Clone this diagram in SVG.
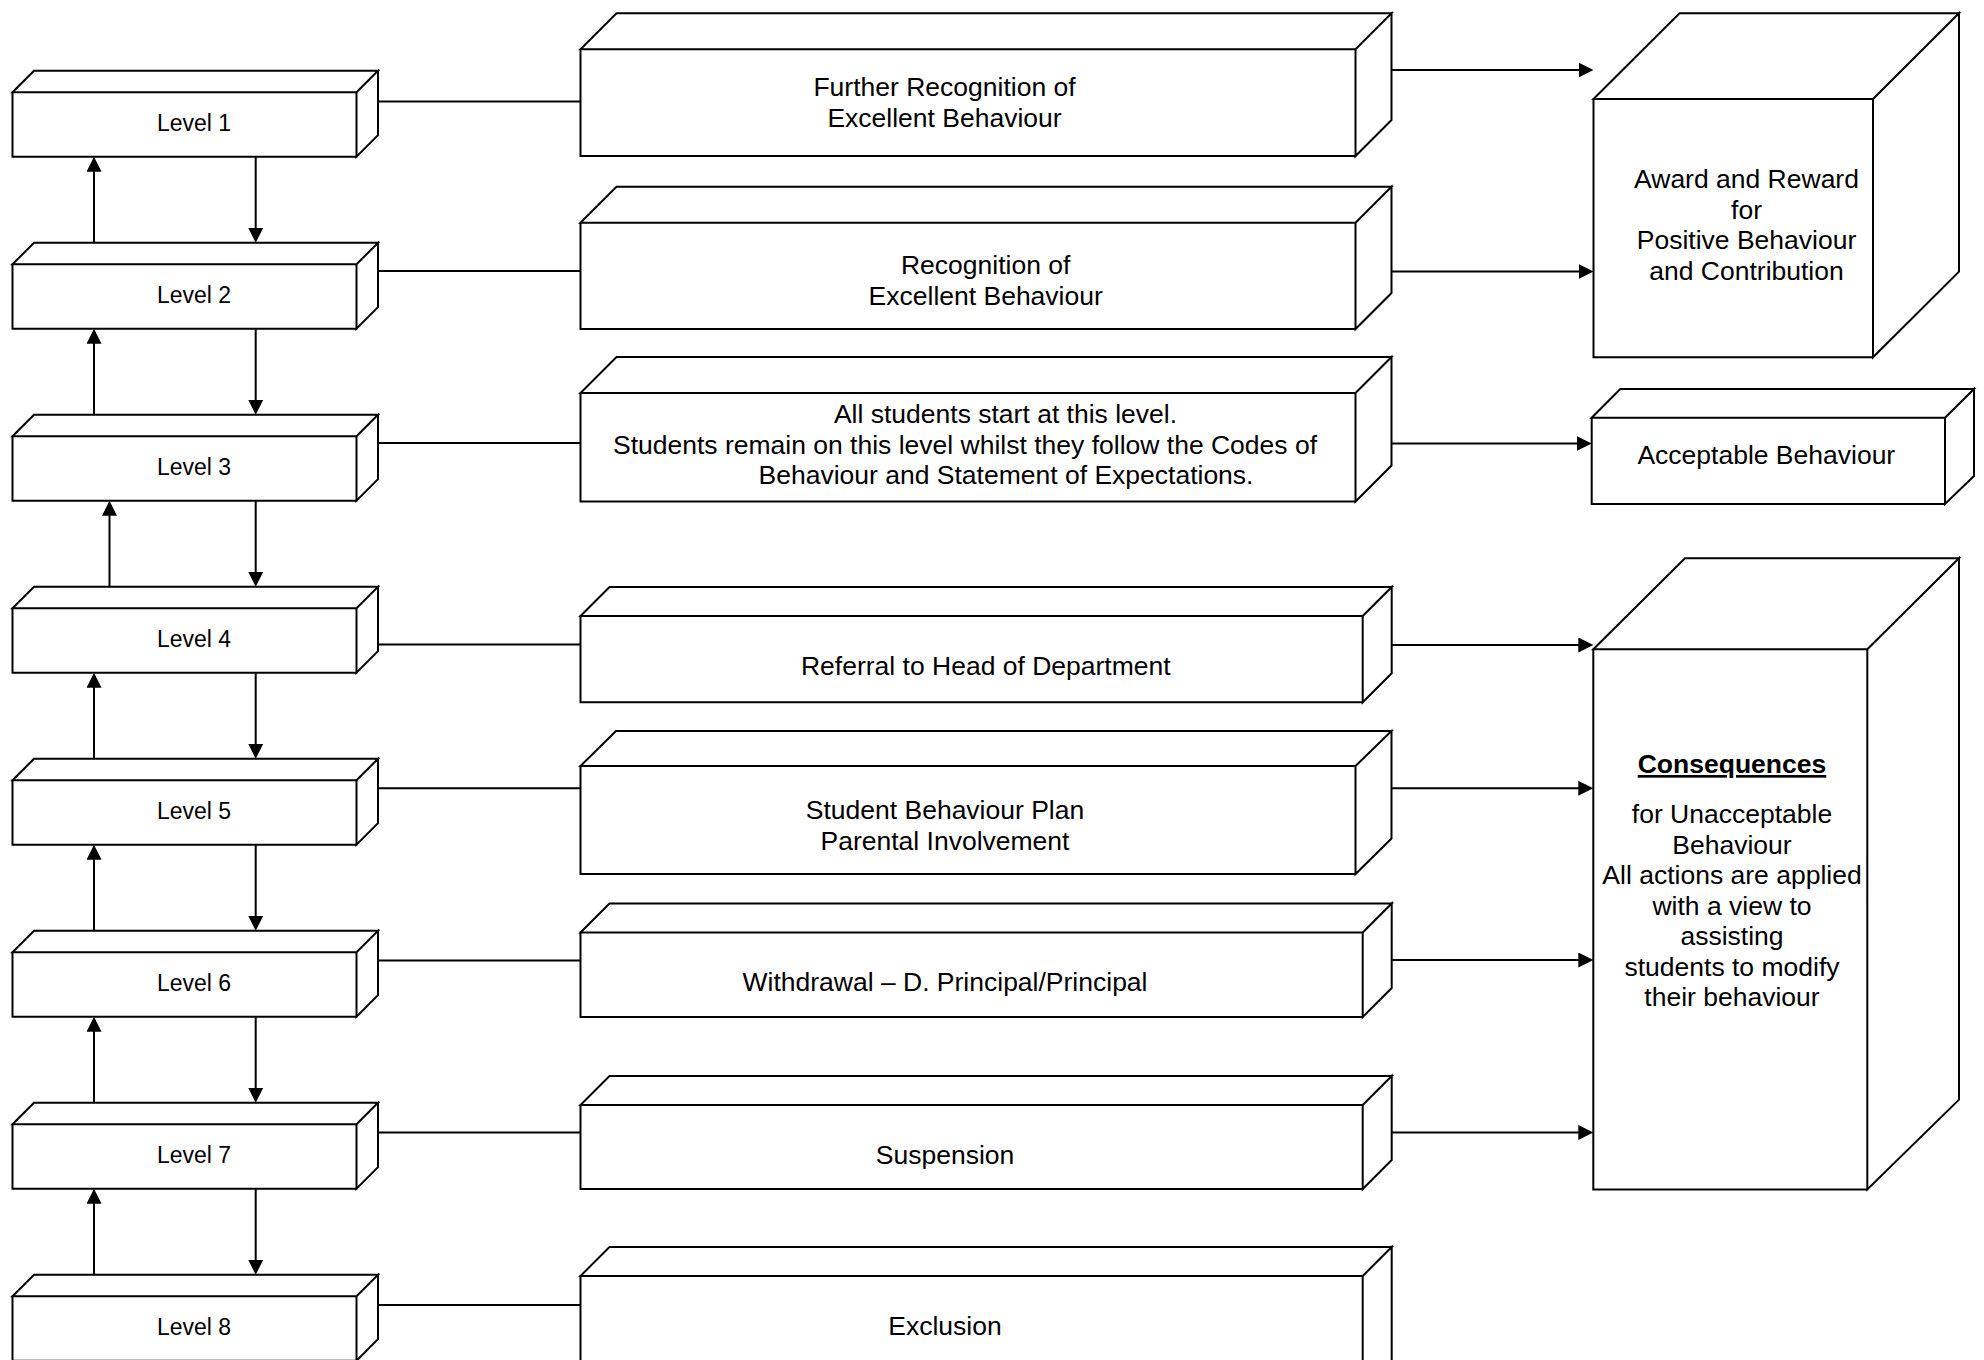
<svg xmlns="http://www.w3.org/2000/svg" width="1984" height="1360" viewBox="0 0 1984 1360">
<defs>
<style>
.box{fill:#fff;stroke:#000;stroke-width:2;stroke-linejoin:miter}
.ln{fill:none;stroke:#000;stroke-width:2}
.t{font-family:"Liberation Sans",Arial,sans-serif;font-size:26.5px;fill:#000;text-anchor:middle}
.lv{font-family:"Liberation Sans",Arial,sans-serif;font-size:23px;fill:#000;text-anchor:middle}
.b{font-weight:bold;text-decoration:underline}
</style>
<marker id="ah" markerUnits="userSpaceOnUse" markerWidth="16" markerHeight="16" refX="5" refY="7.5" orient="auto">
<path d="M0,0 L15,7.5 L0,15 Z" fill="#000"/>
</marker>
</defs>
<rect width="1984" height="1360" fill="#fff"/>

<g id="connectors">
<!-- level to middle box lines -->
<line class="ln" x1="378" y1="101.5" x2="580.5" y2="101.5"/>
<line class="ln" x1="378" y1="271" x2="580.5" y2="271"/>
<line class="ln" x1="378" y1="443" x2="580.5" y2="443"/>
<line class="ln" x1="378" y1="644.5" x2="580.5" y2="644.5"/>
<line class="ln" x1="378" y1="788.3" x2="580.5" y2="788.3"/>
<line class="ln" x1="378" y1="960.4" x2="580.5" y2="960.4"/>
<line class="ln" x1="378" y1="1132.4" x2="580.5" y2="1132.4"/>
<line class="ln" x1="378" y1="1305" x2="580.5" y2="1305"/>
<!-- middle to outcome arrows -->
<line class="ln" x1="1391.5" y1="70" x2="1583.5" y2="70" marker-end="url(#ah)"/>
<line class="ln" x1="1391.5" y1="271.5" x2="1583.5" y2="271.5" marker-end="url(#ah)"/>
<line class="ln" x1="1391.5" y1="443.5" x2="1581.7" y2="443.5" marker-end="url(#ah)"/>
<line class="ln" x1="1391.5" y1="645" x2="1583.3" y2="645" marker-end="url(#ah)"/>
<line class="ln" x1="1391.5" y1="788.3" x2="1583.3" y2="788.3" marker-end="url(#ah)"/>
<line class="ln" x1="1391.5" y1="960" x2="1583.3" y2="960" marker-end="url(#ah)"/>
<line class="ln" x1="1391.5" y1="1132.4" x2="1583.3" y2="1132.4" marker-end="url(#ah)"/>
<!-- up arrows -->
<line class="ln" x1="94" y1="242.8" x2="94" y2="166.7" marker-end="url(#ah)"/>
<line class="ln" x1="94" y1="414.8" x2="94" y2="338.7" marker-end="url(#ah)"/>
<line class="ln" x1="109.5" y1="586.8" x2="109.5" y2="510.7" marker-end="url(#ah)"/>
<line class="ln" x1="94" y1="758.8" x2="94" y2="682.7" marker-end="url(#ah)"/>
<line class="ln" x1="94" y1="930.8" x2="94" y2="854.7" marker-end="url(#ah)"/>
<line class="ln" x1="94" y1="1102.8" x2="94" y2="1026.7" marker-end="url(#ah)"/>
<line class="ln" x1="94" y1="1274.8" x2="94" y2="1198.7" marker-end="url(#ah)"/>
<!-- down arrows -->
<line class="ln" x1="255.7" y1="156.7" x2="255.7" y2="232.8" marker-end="url(#ah)"/>
<line class="ln" x1="255.7" y1="328.7" x2="255.7" y2="404.8" marker-end="url(#ah)"/>
<line class="ln" x1="255.7" y1="500.7" x2="255.7" y2="576.8" marker-end="url(#ah)"/>
<line class="ln" x1="255.7" y1="672.7" x2="255.7" y2="748.8" marker-end="url(#ah)"/>
<line class="ln" x1="255.7" y1="844.7" x2="255.7" y2="920.8" marker-end="url(#ah)"/>
<line class="ln" x1="255.7" y1="1016.7" x2="255.7" y2="1092.8" marker-end="url(#ah)"/>
<line class="ln" x1="255.7" y1="1188.7" x2="255.7" y2="1264.8" marker-end="url(#ah)"/>
</g>

<!-- Level boxes: front x 12.5-356.5, depth 21.5 -->
<g id="level1"><path class="box" d="M12.5,92.3 H356.5 V156.7 H12.5 Z M12.5,92.3 L34,70.8 H378 L356.5,92.3 Z M356.5,92.3 L378,70.8 V135.2 L356.5,156.7 Z"/><text class="lv" x="194" y="131">Level 1</text></g>
<g id="level2"><path class="box" d="M12.5,264.3 H356.5 V328.7 H12.5 Z M12.5,264.3 L34,242.8 H378 L356.5,264.3 Z M356.5,264.3 L378,242.8 V307.2 L356.5,328.7 Z"/><text class="lv" x="194" y="303">Level 2</text></g>
<g id="level3"><path class="box" d="M12.5,436.3 H356.5 V500.7 H12.5 Z M12.5,436.3 L34,414.8 H378 L356.5,436.3 Z M356.5,436.3 L378,414.8 V479.2 L356.5,500.7 Z"/><text class="lv" x="194" y="475">Level 3</text></g>
<g id="level4"><path class="box" d="M12.5,608.3 H356.5 V672.7 H12.5 Z M12.5,608.3 L34,586.8 H378 L356.5,608.3 Z M356.5,608.3 L378,586.8 V651.2 L356.5,672.7 Z"/><text class="lv" x="194" y="647">Level 4</text></g>
<g id="level5"><path class="box" d="M12.5,780.3 H356.5 V844.7 H12.5 Z M12.5,780.3 L34,758.8 H378 L356.5,780.3 Z M356.5,780.3 L378,758.8 V823.2 L356.5,844.7 Z"/><text class="lv" x="194" y="819">Level 5</text></g>
<g id="level6"><path class="box" d="M12.5,952.3 H356.5 V1016.7 H12.5 Z M12.5,952.3 L34,930.8 H378 L356.5,952.3 Z M356.5,952.3 L378,930.8 V995.2 L356.5,1016.7 Z"/><text class="lv" x="194" y="991">Level 6</text></g>
<g id="level7"><path class="box" d="M12.5,1124.3 H356.5 V1188.7 H12.5 Z M12.5,1124.3 L34,1102.8 H378 L356.5,1124.3 Z M356.5,1124.3 L378,1102.8 V1167.2 L356.5,1188.7 Z"/><text class="lv" x="194" y="1163">Level 7</text></g>
<g id="level8"><path class="box" d="M12.5,1296.3 H356.5 V1360.7 H12.5 Z M12.5,1296.3 L34,1274.8 H378 L356.5,1296.3 Z M356.5,1296.3 L378,1274.8 V1339.2 L356.5,1360.7 Z"/><text class="lv" x="194" y="1335">Level 8</text></g>

<!-- Middle boxes -->
<g id="action1"><path class="box" d="M580.5,49.3 H1355.5 V156 H580.5 Z M580.5,49.3 L616.5,13.3 H1391.5 L1355.5,49.3 Z M1355.5,49.3 L1391.5,13.3 V120 L1355.5,156 Z"/>
<text class="t" x="944.5" y="96">Further Recognition of</text><text class="t" x="944.5" y="126.7">Excellent Behaviour</text></g>
<g id="action2"><path class="box" d="M580.5,222.7 H1355.5 V329 H580.5 Z M580.5,222.7 L616.5,186.7 H1391.5 L1355.5,222.7 Z M1355.5,222.7 L1391.5,186.7 V293 L1355.5,329 Z"/>
<text class="t" x="985.7" y="274">Recognition of</text><text class="t" x="985.7" y="304.5">Excellent Behaviour</text></g>
<g id="action3"><path class="box" d="M580.5,393 H1355.5 V501.5 H580.5 Z M580.5,393 L616.5,357 H1391.5 L1355.5,393 Z M1355.5,393 L1391.5,357 V465.5 L1355.5,501.5 Z"/>
<text class="t" x="1005.5" y="423.3">All students start at this level.</text><text class="t" x="965" y="453.5">Students remain on this level whilst they follow the Codes of</text><text class="t" x="1006" y="483.7">Behaviour and Statement of Expectations.</text></g>
<g id="action4"><path class="box" d="M580.5,616 H1362.7 V702.3 H580.5 Z M580.5,616 L609.5,587 H1391.7 L1362.7,616 Z M1362.7,616 L1391.7,587 V673.3 L1362.7,702.3 Z"/>
<text class="t" x="985.8" y="675">Referral to Head of Department</text></g>
<g id="action5"><path class="box" d="M580.5,766 H1355.5 V874 H580.5 Z M580.5,766 L616,731 H1391.5 L1355.5,766 Z M1355.5,766 L1391.5,731 V838.5 L1355.5,874 Z"/>
<text class="t" x="945" y="819">Student Behaviour Plan</text><text class="t" x="945" y="849.5">Parental Involvement</text></g>
<g id="action6"><path class="box" d="M580.5,932.5 H1362.7 V1017 H580.5 Z M580.5,932.5 L609.5,903.5 H1391.7 L1362.7,932.5 Z M1362.7,932.5 L1391.7,903.5 V988 L1362.7,1017 Z"/>
<text class="t" x="945" y="991">Withdrawal – D. Principal/Principal</text></g>
<g id="action7"><path class="box" d="M580.5,1105 H1362.7 V1189 H580.5 Z M580.5,1105 L609.5,1076 H1391.7 L1362.7,1105 Z M1362.7,1105 L1391.7,1076 V1160 L1362.7,1189 Z"/>
<text class="t" x="945" y="1163.5">Suspension</text></g>
<g id="action8"><path class="box" d="M580.5,1276 H1362.7 V1400 H580.5 Z M580.5,1276 L609.5,1247 H1391.7 L1362.7,1276 Z M1362.7,1276 L1391.7,1247 V1371 L1362.7,1400 Z"/>
<text class="t" x="945" y="1335">Exclusion</text></g>

<!-- Outcome boxes -->
<g id="award"><path class="box" d="M1593.5,99 H1873 V357.3 H1593.5 Z M1593.5,99 L1679.5,13.3 H1959 L1873,99 Z M1873,99 L1959,13.3 V271.7 L1873,357.3 Z"/>
<text class="t" x="1746.5" y="188">Award and Reward</text><text class="t" x="1746.5" y="218.5">for</text><text class="t" x="1746.5" y="249">Positive Behaviour</text><text class="t" x="1746.5" y="279.5">and Contribution</text></g>
<g id="acceptable"><path class="box" d="M1591.7,417.7 H1945 V504 H1591.7 Z M1591.7,417.7 L1620.3,389 H1974 L1945,417.7 Z M1945,417.7 L1974,389 V476 L1945,504 Z"/>
<text class="t" x="1766.3" y="464">Acceptable Behaviour</text></g>
<g id="consequences"><path class="box" d="M1593.3,649.3 H1867.3 V1189.4 H1593.3 Z M1593.3,649.3 L1685,558.2 H1959 L1867.3,649.3 Z M1867.3,649.3 L1959,558.2 V1099.6 L1867.3,1189.4 Z"/>
<text class="t b" x="1732" y="773">Consequences</text>
<text class="t" x="1732" y="823">for Unacceptable</text>
<text class="t" x="1732" y="853.5">Behaviour</text>
<text class="t" x="1732" y="884">All actions are applied</text>
<text class="t" x="1732" y="914.5">with a view to</text>
<text class="t" x="1732" y="945">assisting</text>
<text class="t" x="1732" y="975.5">students to modify</text>
<text class="t" x="1732" y="1006">their behaviour</text></g>
</svg>
